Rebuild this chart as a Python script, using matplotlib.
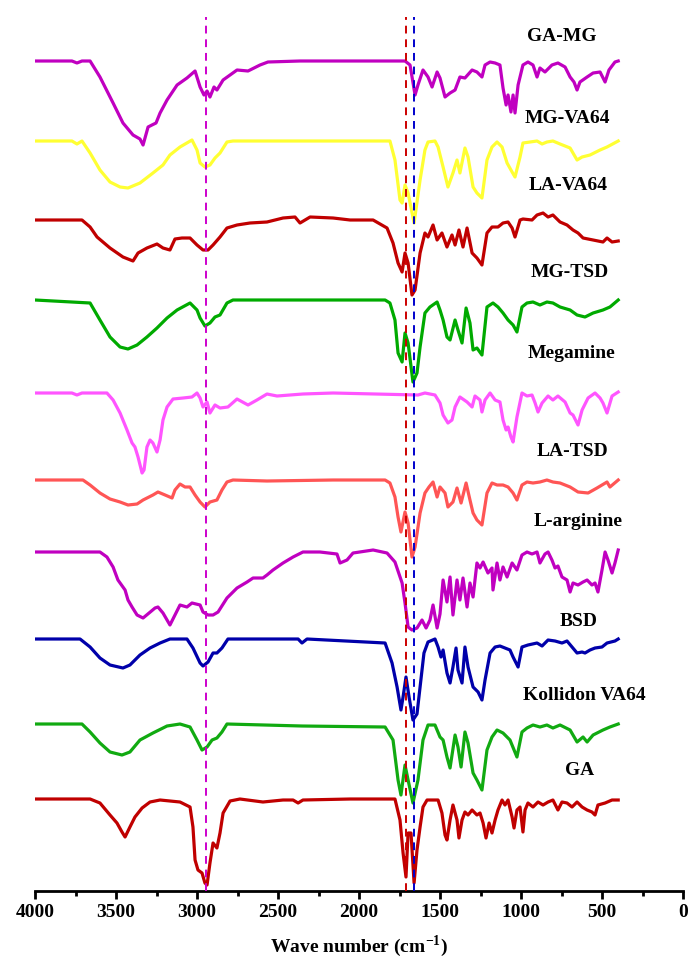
# -*- coding: utf-8 -*-
"""Stacked FTIR spectra with reference lines for the characteristic bands."""
import matplotlib
matplotlib.use("Agg")
import matplotlib.pyplot as plt
from matplotlib.ticker import MultipleLocator

plt.rcParams["font.family"] = ["Liberation Serif", "DejaVu Serif"]
plt.rcParams["font.weight"] = "bold"
plt.rcParams["mathtext.fontset"] = "custom"
plt.rcParams["mathtext.rm"] = "Liberation Serif:bold"
plt.rcParams["mathtext.bf"] = "Liberation Serif:bold"

# --- spectra: wavenumber (cm-1) and band depth below each trace's baseline ---
GA_MG_WN = [4000, 3772, 3741, 3710, 3660, 3599, 3518, 3457, 3395, 3352, 3333, 3302, 3278, 3253, 3228,
            3185, 3123, 3062, 3012, 2981, 2957, 2938, 2920, 2895, 2877, 2839, 2753, 2685, 2611, 2562,
            2364, 1716, 1685, 1654, 1636, 1605, 1574, 1549, 1518, 1500, 1469, 1438, 1407, 1377, 1346,
            1302, 1272, 1241, 1222, 1191, 1160, 1130, 1111, 1092, 1080, 1062, 1049, 1037, 1018, 988,
            957, 926, 901, 883, 852, 809, 772, 728, 697, 673, 654, 636, 592, 555, 512, 481, 457, 420, 400]
GA_MG_D = [0, 0, 2, 0, 0, 16, 42, 62, 74, 78, 84, 66, 64, 62, 52,
           39, 24, 17, 10, 26, 34, 30, 36, 26, 29, 19, 9, 10, 4, 1,
           0, 0, 4, 34, 24, 9, 16, 26, 11, 17, 36, 32, 29, 16, 17,
           9, 11, 16, 4, 1, 2, 4, 27, 44, 34, 51, 34, 52, 24, 4,
           1, 4, 16, 7, 11, 4, 2, 6, 16, 21, 29, 21, 16, 12, 11, 21, 9, 1, 0]

MG_VA64_WN = [4000, 3772, 3741, 3710, 3660, 3599, 3537, 3475, 3426, 3352, 3272, 3210, 3167, 3105, 3031,
              3000, 2981, 2951, 2920, 2889, 2858, 2815, 2778, 1809, 1778, 1747, 1734, 1716, 1697, 1660,
              1623, 1593, 1574, 1531, 1512, 1481, 1451, 1420, 1395, 1377, 1346, 1327, 1296, 1272, 1241,
              1210, 1179, 1148, 1117, 1086, 1055, 1037, 1006, 988, 944, 901, 870, 840, 803, 759,
              697, 654, 623, 574, 512, 469, 400]
MG_VA64_D = [0, 0, 3, 0, 12, 29, 41, 46, 47, 42, 32, 24, 14, 6, -1,
             9, 22, 26, 24, 17, 12, 1, 0, 0, 19, 59, 62, 44, 52, 82,
             39, 9, 1, 0, 6, 26, 46, 32, 19, 32, 7, 16, 46, 52, 57,
             19, 6, 1, 6, 22, 31, 36, 16, 2, 1, 0, 3, 1, 0, 3,
             7, 19, 16, 14, 9, 6, 0]

LA_VA64_WN = [4000, 3710, 3660, 3617, 3537, 3457, 3395, 3364, 3309, 3247, 3210, 3167, 3136, 3093, 3043,
              3000, 2963, 2932, 2901, 2858, 2815, 2753, 2673, 2568, 2469, 2395, 2364, 2302, 2160, 2055,
              1913, 1827, 1790, 1759, 1734, 1716, 1697, 1673, 1654, 1623, 1593, 1574, 1543, 1518, 1488,
              1457, 1426, 1407, 1383, 1358, 1333, 1302, 1272, 1241, 1210, 1179, 1142, 1111, 1080, 1055,
              1037, 1006, 988, 932, 901, 864, 833, 803, 759, 716, 679, 648, 617, 555, 494, 469, 438, 400]
LA_VA64_D = [0, 0, 7, 17, 28, 37, 41, 33, 28, 24, 28, 30, 19, 18, 18,
             25, 30, 30, 25, 17, 8, 5, 3, 2, -2, -3, 3, -3, -2, 0,
             0, 8, 23, 43, 52, 33, 43, 75, 70, 33, 13, 17, 5, 20, 13,
             27, 15, 25, 10, 27, 8, 33, 38, 45, 13, 7, 7, 3, 2, 8,
             17, 0, -1, 0, -5, -7, -3, -5, 2, 5, 10, 13, 18, 20, 22, 18, 22, 21]

MG_TSD_WN = [4000, 3660, 3599, 3537, 3475, 3426, 3370, 3309, 3247, 3185, 3123, 3043, 3000, 2981, 2951,
             2920, 2889, 2858, 2815, 2778, 1839, 1809, 1778, 1759, 1734, 1716, 1697, 1667, 1642, 1623,
             1593, 1562, 1518, 1500, 1481, 1457, 1438, 1407, 1389, 1364, 1339, 1315, 1296, 1272, 1241,
             1210, 1173, 1142, 1111, 1080, 1049, 1025, 994, 963, 926, 883, 840, 803, 759, 697,
             654, 605, 555, 494, 451, 400]
MG_TSD_D = [0, 3, 20, 37, 47, 49, 45, 37, 28, 18, 10, 3, 10, 18, 26,
            23, 17, 15, 3, 0, 0, 3, 20, 53, 62, 33, 43, 82, 73, 47,
            13, 7, 2, 10, 20, 37, 40, 20, 30, 43, 8, 23, 50, 48, 55,
            7, 3, 7, 13, 20, 25, 32, 7, 3, 2, 5, 2, 3, 7, 10,
            15, 17, 13, 10, 7, 0]

MEGAMINE_WN = [4000, 3772, 3741, 3710, 3556, 3518, 3475, 3432, 3401, 3383, 3364, 3339, 3327, 3309, 3290,
               3272, 3247, 3228, 3210, 3185, 3148, 3086, 3031, 3000, 2981, 2963, 2938, 2920, 2889, 2858,
               2809, 2753, 2685, 2630, 2568, 2506, 2346, 2160, 1636, 1593, 1531, 1500, 1481, 1451, 1426,
               1407, 1377, 1333, 1302, 1284, 1253, 1241, 1222, 1191, 1160, 1130, 1111, 1092, 1080, 1062,
               1049, 1025, 994, 963, 932, 913, 895, 870, 833, 803, 772, 728, 697, 679, 648,
               623, 586, 543, 512, 494, 469, 438, 400]
MEGAMINE_D = [0, 0, 2, 0, 0, 7, 20, 37, 50, 54, 64, 80, 77, 54, 47,
              50, 59, 47, 27, 14, 6, 5, 4, 0, 5, 14, 9, 20, 12, 15,
              14, 6, 12, 7, 1, 3, 1, 0, 2, 0, 2, 10, 22, 30, 27,
              14, 4, 9, 14, 3, 7, 19, 7, 0, 7, 9, 27, 37, 34, 44,
              49, 24, 0, 3, 2, 10, 19, 10, 3, 7, 3, 9, 20, 22, 32,
              17, 5, 0, 5, 10, 20, 3, -1]

LA_TSD_WN = [4000, 3704, 3660, 3599, 3537, 3475, 3426, 3370, 3333, 3272, 3241, 3197, 3154, 3136, 3105,
             3074, 3043, 3012, 2981, 2951, 2920, 2877, 2846, 2815, 2778, 2568, 2160, 1839, 1809, 1778,
             1759, 1741, 1716, 1697, 1673, 1654, 1623, 1593, 1568, 1543, 1518, 1500, 1469, 1451, 1420,
             1395, 1370, 1339, 1315, 1296, 1272, 1241, 1210, 1179, 1148, 1111, 1080, 1049, 1025, 994,
             963, 926, 883, 840, 803, 759, 697, 648, 586, 531, 469, 451, 400]
LA_TSD_D = [0, 0, 5, 13, 19, 22, 25, 24, 20, 15, 12, 15, 18, 10, 4,
            7, 7, 15, 22, 27, 22, 20, 10, 2, 0, 1, 0, 0, 3, 17,
            37, 52, 32, 43, 77, 67, 33, 13, 7, 2, 17, 7, 13, 27, 22,
            8, 23, 3, 20, 33, 40, 45, 13, 3, 5, 5, 7, 13, 20, 5,
            2, 3, 2, 0, 2, 3, 7, 12, 13, 8, 2, 7, 0]

L_ARG_WN = [4000, 3599, 3556, 3518, 3488, 3444, 3426, 3401, 3370, 3333, 3259, 3241, 3210, 3167, 3136,
            3105, 3062, 3031, 2981, 2963, 2932, 2901, 2870, 2815, 2753, 2691, 2654, 2593, 2568, 2531,
            2469, 2407, 2346, 2241, 2136, 2117, 2074, 2037, 1913, 1827, 1778, 1734, 1716, 1697, 1673,
            1642, 1611, 1586, 1562, 1543, 1518, 1500, 1481, 1457, 1438, 1420, 1395, 1377, 1358, 1333,
            1315, 1296, 1272, 1253, 1234, 1204, 1179, 1173, 1148, 1130, 1111, 1086, 1055, 1025, 994,
            963, 932, 901, 883, 852, 833, 809, 790, 772, 747, 716, 697, 679, 648, 617,
            592, 562, 543, 525, 500, 481, 463, 438, 420, 400]
L_ARG_D = [0, 0, 5, 15, 28, 38, 48, 55, 63, 66, 56, 55, 61, 73, 63,
           53, 55, 51, 53, 60, 63, 63, 60, 46, 36, 30, 26, 26, 23, 18,
           11, 5, 0, 0, 2, 11, 8, 1, -2, 1, 10, 31, 51, 75, 78,
           76, 68, 76, 68, 53, 76, 62, 28, 50, 25, 63, 28, 48, 26, 55,
           31, 45, 11, 16, 10, 21, 16, 38, 11, 28, 15, 25, 11, 18, 3,
           0, 2, 0, 11, 2, 0, 8, 16, 14, 25, 28, 40, 31, 33, 30,
           28, 33, 31, 40, 18, 0, 8, 21, 11, -2]

BSD_WN = [4000, 3722, 3660, 3599, 3537, 3457, 3414, 3352, 3290, 3228, 3167, 3062, 3025, 2981, 2963,
          2932, 2901, 2877, 2846, 2809, 2376, 2352, 2321, 1839, 1796, 1765, 1741, 1728, 1710, 1691,
          1667, 1642, 1623, 1599, 1574, 1531, 1512, 1494, 1481, 1457, 1438, 1420, 1401, 1389, 1364,
          1346, 1327, 1296, 1265, 1241, 1222, 1191, 1160, 1130, 1099, 1068, 1049, 1018, 994, 957,
          901, 870, 833, 790, 747, 716, 685, 654, 623, 605, 574, 543, 500, 469, 420, 400]
BSD_D = [0, 0, 8, 19, 26, 29, 26, 16, 9, 4, 0, 0, 9, 24, 27,
         23, 14, 14, 9, 0, 0, 4, 0, 4, 24, 48, 71, 58, 38, 58,
         81, 75, 48, 14, 3, 0, 8, 18, 11, 34, 44, 28, 9, 31, 44,
         8, 28, 48, 53, 61, 41, 14, 8, 7, 9, 11, 18, 28, 8, 6,
         4, 7, 1, 2, 4, 2, 8, 14, 13, 14, 11, 9, 8, 4, 2, 0]

KVA64_WN = [4000, 3710, 3660, 3599, 3537, 3463, 3414, 3352, 3272, 3185, 3105, 3043, 3000, 2969, 2938,
            2907, 2877, 2846, 2815, 2352, 1839, 1790, 1759, 1741, 1716, 1697, 1667, 1636, 1605, 1574,
            1531, 1500, 1481, 1457, 1438, 1407, 1389, 1370, 1346, 1327, 1296, 1272, 1241, 1210, 1179,
            1148, 1111, 1068, 1025, 994, 963, 926, 883, 840, 803, 759, 697, 654, 617, 592,
            555, 494, 451, 400]
KVA64_D = [0, 0, 8, 19, 28, 31, 28, 16, 9, 2, 0, 3, 16, 26, 23,
           16, 14, 8, 0, 2, 3, 16, 56, 71, 41, 56, 79, 56, 16, 1,
           1, 13, 16, 33, 44, 11, 23, 43, 8, 19, 49, 56, 66, 26, 13,
           6, 9, 16, 33, 8, 4, 1, 3, 1, 4, 1, 6, 18, 13, 18,
           11, 6, 3, 0]

GA_WN = [4000, 3660, 3599, 3537, 3494, 3463, 3444, 3414, 3383, 3339, 3290, 3228, 3105, 3043, 3025,
         3012, 2994, 2969, 2951, 2938, 2920, 2901, 2877, 2858, 2839, 2796, 2735, 2593, 2469, 2407,
         2376, 2346, 2055, 1778, 1747, 1728, 1710, 1697, 1679, 1660, 1642, 1623, 1605, 1580, 1512,
         1488, 1469, 1457, 1438, 1420, 1395, 1383, 1364, 1346, 1327, 1302, 1272, 1253, 1234, 1216,
         1197, 1179, 1160, 1142, 1117, 1099, 1080, 1055, 1043, 1025, 1006, 988, 975, 957, 926,
         895, 864, 833, 803, 772, 747, 716, 685, 654, 623, 592, 562, 543, 525, 481,
         438, 400]
GA_D = [0, 0, 4, 16, 24, 33, 38, 28, 18, 9, 3, 1, 3, 8, 28,
        61, 71, 74, 84, 86, 64, 44, 49, 34, 14, 2, 0, 3, 1, 1,
        4, 1, 0, 0, 21, 54, 78, 34, 34, 84, 51, 28, 8, 1, 1,
        14, 36, 41, 21, 6, 21, 39, 21, 13, 16, 11, 16, 14, 24, 39,
        24, 34, 21, 11, 1, 6, 1, 18, 29, 11, 8, 33, 11, 4, 8,
        3, 6, 3, 1, 11, 3, 4, 8, 3, 8, 11, 13, 16, 6, 4,
        1, 1]

# --- stacking, labels and colours (top to bottom) ---
names = ["GA-MG", "MG-VA64", "LA-VA64", "MG-TSD", "Megamine",
         "LA-TSD", "L-arginine", "BSD", "Kollidon VA64", "GA"]
wavenumbers = [GA_MG_WN, MG_VA64_WN, LA_VA64_WN, MG_TSD_WN, MEGAMINE_WN,
               LA_TSD_WN, L_ARG_WN, BSD_WN, KVA64_WN, GA_WN]
depths = [GA_MG_D, MG_VA64_D, LA_VA64_D, MG_TSD_D, MEGAMINE_D,
          LA_TSD_D, L_ARG_D, BSD_D, KVA64_D, GA_D]
offsets = [830, 750, 671, 591, 498, 411, 339, 252, 167, 92]
colors = ["#C000C0", "#FFFF33", "#C00000", "#00AA00", "#FF55FF",
          "#FF5555", "#C000C0", "#0000AA", "#11AA11", "#C00000"]
label_wn = [747, 716, 710, 697, 691, 685, 648, 642, 611, 636]
label_y = [855, 773, 706, 619, 538, 440, 370, 270, 196, 121]

# reference bands (cm-1)
band_wn = [2945, 1710, 1660]
band_colors = ["#CC00CC", "#CC0000", "#0000CC"]
band_top = 874

fig = plt.figure(figsize=(6.89, 9.59), dpi=100)
ax = fig.add_axes([0.0508, 0.0709, 0.9405, 0.9291])

for wn, d, off, c in zip(wavenumbers, depths, offsets, colors):
    ax.plot(wn, [off - v for v in d], color=c, lw=2.3, solid_joinstyle="round", zorder=2)

for wn, c in zip(band_wn, band_colors):
    ax.vlines(wn, 0, band_top, colors=c, linestyles=(0, (4, 3)), lw=1.4, zorder=3)

for name, x, y in zip(names, label_wn, label_y):
    ax.text(x, y, name, ha="center", va="center", fontsize=14, fontweight="bold")

ax.set_xlim(4000, 0)
ax.set_ylim(0, 891)
ax.xaxis.set_major_locator(MultipleLocator(500))
ax.xaxis.set_minor_locator(MultipleLocator(250))
ax.tick_params(axis="x", which="major", direction="out", length=6, width=2, labelsize=14)
ax.tick_params(axis="x", which="minor", direction="out", length=3.5, width=2)
ax.set_yticks([])
for side in ("left", "right", "top"):
    ax.spines[side].set_visible(False)
ax.spines["bottom"].set_linewidth(2)
ax.set_xlabel(r"Wave number (cm$^{-1}$)", fontsize=14, fontweight="bold", labelpad=9)

fig.savefig("out.png", dpi=100)
plt.close(fig)
